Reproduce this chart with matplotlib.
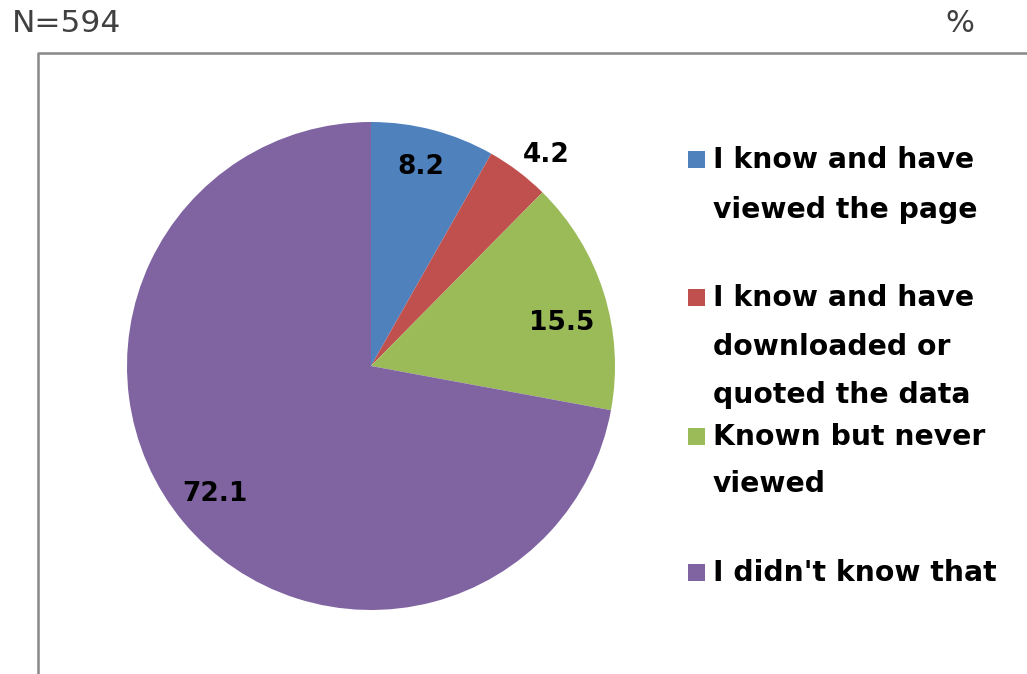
import matplotlib
matplotlib.use("Agg")
import matplotlib.pyplot as plt
from matplotlib.patches import Rectangle
import numpy as np

categories = ["I know and have viewed the page",
              "I know and have downloaded or quoted the data",
              "Known but never viewed",
              "I didn't know that"]
legend_lines = [["I know and have", "viewed the page"],
                ["I know and have", "downloaded or", "quoted the data"],
                ["Known but never", "viewed"],
                ["I didn't know that"]]
values = [8.2, 4.2, 15.5, 72.1]
colors = ["#4F81BD", "#C0504D", "#9BBB59", "#8064A2"]
label_dist = [0.84, 1.12, 0.80, 0.82]
label_shift_px = [(-2, 1), (10, -7), (4, -16), (-2, 0)]

W, H = 1027, 674
fig = plt.figure(figsize=(W / 100, H / 100), dpi=100)
fig.patch.set_facecolor("white")

# frame (cut off on right/bottom)
frame = fig.add_axes([0, 0, 1, 1], zorder=0)
frame.set_xlim(0, W)
frame.set_ylim(H, 0)
frame.axis("off")
frame.plot([38, 38, W + 5], [H + 5, 52.5, 52.5], color="#888888", lw=1.8,
           solid_capstyle="butt", clip_on=False)

fig.text(12 / W, 1 - 24 / H, "N=594", fontsize=22.5, color="#404040",
         ha="left", va="center", family="DejaVu Sans")
fig.text(960 / W, 1 - 24 / H, "%", fontsize=22, color="#404040",
         ha="center", va="center", family="DejaVu Sans")

cx, cy, r = 371, 366, 244
ax = fig.add_axes([(cx - r) / W, (H - cy - r) / H, 2 * r / W, 2 * r / H], zorder=1)
wedges, _ = ax.pie(values, colors=colors, startangle=90, counterclock=False,
                   radius=1, wedgeprops=dict(linewidth=0))
ax.set_xlim(-1, 1)
ax.set_ylim(-1, 1)
ax.set_aspect("equal")
ax.axis("off")

for w, v, d, sh in zip(wedges, values, label_dist, label_shift_px):
    ang = np.deg2rad((w.theta1 + w.theta2) / 2)
    ax.annotate(f"{v:.1f}", xy=(d * np.cos(ang), d * np.sin(ang)), xytext=sh,
                textcoords="offset pixels", ha="center", va="center",
                fontsize=19, fontweight="bold", color="black", family="DejaVu Sans")

# legend
line_y = [[160, 210], [298, 347, 395], [437, 484], [573]]
for lines, ys, c in zip(legend_lines, line_y, colors):
    frame.add_patch(Rectangle((688, ys[0] - 9), 17, 17, facecolor=c, edgecolor="none"))
    for t, y in zip(lines, ys):
        frame.text(713, y, t, fontsize=20.3, fontweight="bold", color="black",
                   ha="left", va="center", family="DejaVu Sans")

fig.savefig("out.png", dpi=100)
